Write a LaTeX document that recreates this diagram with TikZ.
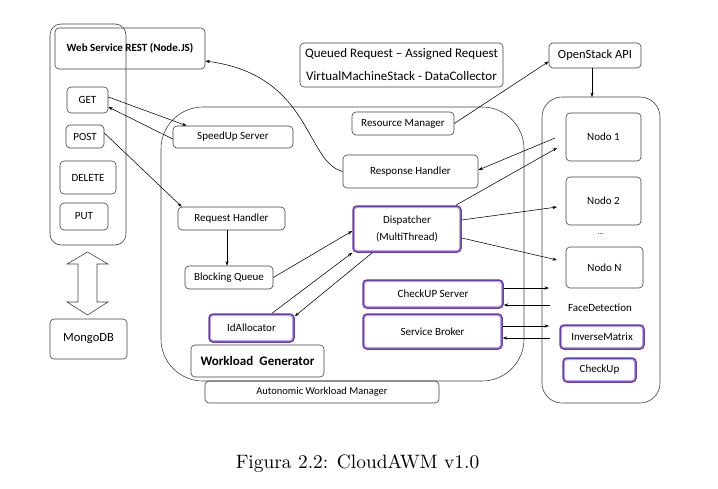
\documentclass[tikz,border=0pt]{standalone}
\usepackage{fontspec}
\newfontfamily\carl{Carlito}
\usetikzlibrary{arrows.meta}
\definecolor{pdark}{HTML}{6A3D9E}
\definecolor{plight}{HTML}{BBA6DD}
\definecolor{lgray}{HTML}{404040}
\begin{document}
\begin{tikzpicture}[x=1pt,y=-1pt,
  box/.style={draw=lgray, line width=0.6pt, rounded corners=4pt, inner sep=0pt,
    font=\carl\fontsize{11}{13.5}\selectfont, align=center},
  pbox/.style={box, draw=pdark, line width=1.5pt,
    path picture={\draw[plight, line width=4pt, rounded corners=4pt]
      (path picture bounding box.south west) rectangle (path picture bounding box.north east);}},
  cont/.style={draw=lgray, line width=0.6pt},
  lbl/.style={inner sep=0pt, font=\carl\fontsize{11}{13.5}\selectfont},
  arr/.style={-{Stealth[length=4.5pt,width=3.2pt]}, line width=0.55pt, black}]
\useasboundingbox (0,0) rectangle (718,488);

% containers
\draw[cont, rounded corners=11pt] (50,24) rectangle (126,245);
\draw[cont, rounded corners=42pt] (161,107) rectangle (524,381);
\draw[cont, rounded corners=20pt] (542,97) rectangle (660,403);

% web service
\node[box, minimum width=150, minimum height=41] (rest) at (130,48.5)
  {\bfseries Web Service REST (Node.JS)};
\node[box, minimum width=41, minimum height=26] (get) at (87.5,100) {GET};
\node[box, minimum width=38, minimum height=23] (post) at (85,136.5) {POST};
\node[box, minimum width=56, minimum height=33] (delete) at (88,177.5) {DELETE};
\node[box, minimum width=48, minimum height=27] (put) at (84,216.5) {PUT};
\node[box, minimum width=77, minimum height=40, font=\carl\fontsize{12.5}{15}\selectfont] (mongo) at (88.5,339) {MongoDB};

% double arrow
\draw[cont, line join=miter] (87.5,252) -- (108,264) -- (97,264) -- (97,302) -- (108,302)
  -- (87.5,315) -- (67,302) -- (78,302) -- (78,264) -- (67,264) -- cycle;

% top info
\node[box, minimum width=203, minimum height=44, font=\carl\fontsize{13}{23}\selectfont] (queued) at (401.5,65)
  {Queued Request – Assigned Request\\VirtualMachineStack - DataCollector};
\node[box, minimum width=92, minimum height=25, font=\carl\fontsize{12.5}{15}\selectfont] (openstack) at (595,55.5) {OpenStack API};

% AWM
\node[box, minimum width=234, minimum height=22, font=\carl\fontsize{10.5}{13}\selectfont] (awm) at (322,392) {Autonomic Workload Manager};
\node[box, minimum width=120, minimum height=22] (speedup) at (233,137) {SpeedUp Server};
\node[box, minimum width=107, minimum height=23] (reqh) at (231.5,218.5) {Request Handler};
\node[box, minimum width=88, minimum height=23] (bq) at (229,277.5) {Blocking Queue};
\node[pbox, minimum width=85, minimum height=28] (idalloc) at (251.5,328) {IdAllocator};
\node[box, minimum width=133, minimum height=32, font=\carl\bfseries\fontsize{13}{15}\selectfont] (wg) at (257.5,361) {Workload\hspace{0.25em} Generator};
\node[box, minimum width=102, minimum height=23] (resman) at (403,123.5) {Resource Manager};
\node[box, minimum width=135, minimum height=33] (resph) at (410.5,171.5) {Response Handler};
\node[pbox, minimum width=108, minimum height=46, font=\carl\fontsize{11}{17}\selectfont] (disp) at (407,229) {Dispatcher\\(MultiThread)};
\node[pbox, minimum width=140, minimum height=28] (cus) at (433,294) {CheckUP Server};
\node[pbox, minimum width=139, minimum height=35] (sb) at (432.5,331.5) {Service Broker};

% nodes
\node[box, minimum width=75, minimum height=48] (n1) at (603.5,137) {Nodo 1};
\node[box, minimum width=75, minimum height=48] (n2) at (603.5,201) {Nodo 2};
\node[lbl, font=\carl\fontsize{8}{10}\selectfont] (dots) at (601,234) {\dots};
\node[box, minimum width=77, minimum height=41] (nN) at (604.5,267.5) {Nodo N};
\node[lbl] (face) at (600,308) {FaceDetection};
\node[pbox, minimum width=84, minimum height=24] (inv) at (602,337) {InverseMatrix};
\node[pbox, minimum width=73, minimum height=24] (chk) at (599.5,370) {CheckUp};

% caption
\node[inner sep=0pt, anchor=base, font=\fontsize{10}{12}\selectfont] (cap) at (357.5,468)
  {\scalebox{1.94}{Figura 2.2: CloudAWM v1.0}};

% free ends
\coordinate (n1out) at (555,138);
\coordinate (n1in) at (557,148);
\coordinate (n2in) at (557,207);
\coordinate (nNin) at (557,260);
\coordinate (fdin) at (549,288);
\coordinate (fdout) at (550,305);
\coordinate (imin) at (549,326);
\coordinate (imout) at (550,338);

% arrows
\draw[arr] ([yshift=3pt]get.east) -- ([xshift=14pt]speedup.north west);
\draw[arr] ([yshift=-2pt]speedup.west) -- ([yshift=-7pt]get.east);
\draw[arr] ([yshift=3.5pt]post.east) -- ([xshift=4pt]reqh.north west);
\draw[arr] (resph.west) .. controls (305,162) and (312,75) .. ([yshift=-12.5pt]rest.east);
\draw[arr] (resman.east) -- ([yshift=-6pt]openstack.west);
\draw[arr] ([xshift=-3pt]openstack.south) -- ([xshift=-3pt]openstack.south |- 0,97);
\draw[arr] (n1out) -- ([yshift=1.5pt]resph.east);
\draw[arr] ([xshift=-6pt]disp.north east) -- (n1in);
\draw[arr] ([yshift=9pt]disp.east) -- (n2in);
\draw[arr] ([yshift=-9pt]disp.east) -- (nNin);
\draw[arr] (bq.east) -- ([yshift=-2pt]disp.west);
\draw[arr] ([xshift=20.5pt]idalloc.north) -- (disp.south west);
\draw[arr] ([xshift=20pt]disp.south west) -- ([yshift=-3pt]idalloc.north east);
\draw[arr] ([xshift=-4.5pt]reqh.south) -- ([xshift=-4.5pt]reqh.south |- bq.north);
\draw[arr] ([yshift=6pt]cus.east) -- (fdin);
\draw[arr] (fdout) -- ([yshift=-11pt]cus.east);
\draw[arr] ([yshift=5.5pt]sb.east) -- (imin);
\draw[arr] (imout) -- ([yshift=-6.5pt]sb.east);
\end{tikzpicture}
\end{document}
